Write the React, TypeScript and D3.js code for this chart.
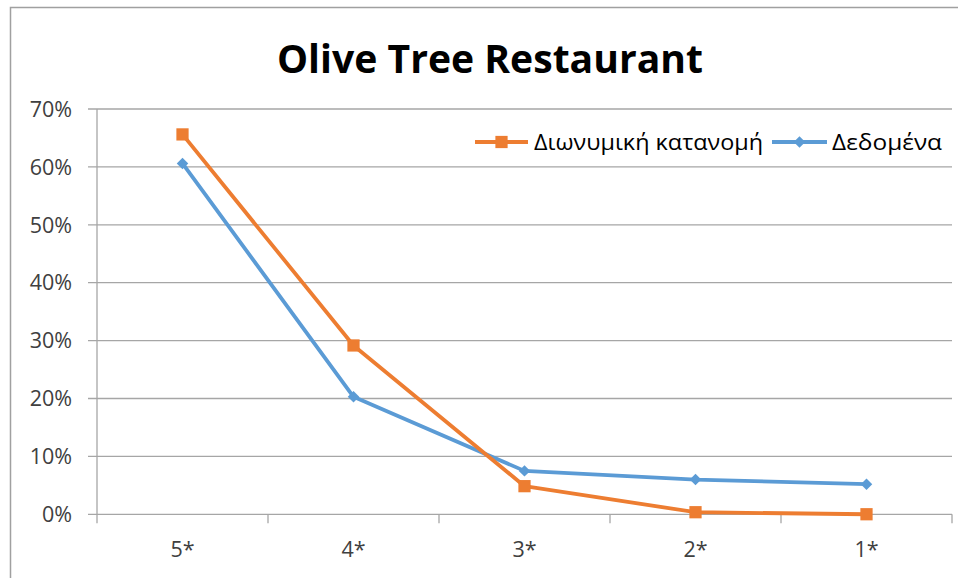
import React, {useRef, useEffect} from 'react'
import * as d3 from 'd3'

const categories = ['5*', '4*', '3*', '2*', '1*']
const binomialValues = [0.6561, 0.2916, 0.0486, 0.0036, 0.0001]
const dataValues = [0.606, 0.203, 0.075, 0.06, 0.052]
const yTicks = [0, 0.1, 0.2, 0.3, 0.4, 0.5, 0.6, 0.7]
const seriesNames = ['Διωνυμική κατανομή', 'Δεδομένα']

const ORANGE = '#ED7D31'
const BLUE = '#5B9BD5'
const GRID = '#A6A6A6'
const FONT = '"Open Sans", "Liberation Sans", sans-serif'

export default function App() {
  const svgRef = useRef(null)

  useEffect(() => {
    const svg = d3.select(svgRef.current)
    svg.selectAll('*').remove()
    draw(svg)
  }, [])

  function draw(svg) {
    const left = 97
    const right = 952
    const top = 109
    const bottom = 514.3

    const x = d3.scaleBand().domain(categories).range([left, right])
    const y = d3.scaleLinear().domain([0, 0.7]).range([bottom, top])

    // chart frame (only top/left visible)
    svg
      .append('path')
      .attr('d', 'M10.5,600 L10.5,7.5 L970,7.5')
      .attr('fill', 'none')
      .attr('stroke', '#A0A0A0')
      .attr('stroke-width', 1.5)

    svg
      .append('text')
      .attr('x', 490)
      .attr('y', 73)
      .attr('text-anchor', 'middle')
      .attr('font-family', FONT)
      .attr('font-weight', 'bold')
      .attr('font-size', 40)
      .attr('textLength', 426)
      .attr('lengthAdjust', 'spacingAndGlyphs')
      .attr('fill', '#000')
      .text('Olive Tree Restaurant')

    // gridlines + left ticks
    const grid = svg.append('g')
    yTicks.forEach(t => {
      grid
        .append('line')
        .attr('x1', left - 9)
        .attr('x2', right)
        .attr('y1', y(t))
        .attr('y2', y(t))
        .attr('stroke', GRID)
        .attr('stroke-width', 1.3)
      grid
        .append('text')
        .attr('x', 72)
        .attr('y', y(t))
        .attr('dy', '0.36em')
        .attr('text-anchor', 'end')
        .attr('font-family', FONT)
        .attr('font-size', 21.5)
        .attr('fill', '#404040')
        .text(d3.format('.0%')(t))
    })

    // vertical axis
    svg
      .append('line')
      .attr('x1', left)
      .attr('x2', left)
      .attr('y1', top)
      .attr('y2', bottom + 9)
      .attr('stroke', GRID)
      .attr('stroke-width', 1.3)

    // bottom ticks at band edges
    categories.forEach(c => {
      const xe = x(c) + x.bandwidth()
      svg
        .append('line')
        .attr('x1', xe)
        .attr('x2', xe)
        .attr('y1', bottom)
        .attr('y2', bottom + 9)
        .attr('stroke', GRID)
        .attr('stroke-width', 1.3)
      svg
        .append('text')
        .attr('x', x(c) + x.bandwidth() / 2)
        .attr('y', 557)
        .attr('text-anchor', 'middle')
        .attr('font-family', FONT)
        .attr('font-size', 21.5)
        .attr('fill', '#404040')
        .text(c)
    })

    const cx = c => x(c) + x.bandwidth() / 2
    const line = d3
      .line()
      .x(d => cx(d[0]))
      .y(d => y(d[1]))

    const blueData = categories.map((c, i) => [c, dataValues[i]])
    const orangeData = categories.map((c, i) => [c, binomialValues[i]])

    const square = d3.symbol().type(d3.symbolSquare).size(150)
    const diamond = d3.symbol().type(d3.symbolSquare).size(66)

    function drawSeries(data, color, symbol, rot) {
      svg
        .append('path')
        .datum(data)
        .attr('d', line)
        .attr('fill', 'none')
        .attr('stroke', color)
        .attr('stroke-width', 3.8)
        .attr('stroke-linejoin', 'round')
      svg
        .append('g')
        .selectAll('path')
        .data(data)
        .join('path')
        .attr('transform', d => `translate(${cx(d[0])},${y(d[1])}) rotate(${rot})`)
        .attr('d', symbol)
        .attr('fill', color)
    }

    drawSeries(blueData, BLUE, diamond, 45)
    drawSeries(orangeData, ORANGE, square, 0)

    // legend
    const legend = svg.append('g')
    const items = [
      {name: seriesNames[0], color: ORANGE, sym: square, rot: 0, x0: 475, x1: 528, tx: 534, tw: 229},
      {name: seriesNames[1], color: BLUE, sym: diamond, rot: 45, x0: 772, x1: 827, tx: 832, tw: 110}
    ]
    items.forEach(it => {
      legend
        .append('line')
        .attr('x1', it.x0)
        .attr('x2', it.x1)
        .attr('y1', 142)
        .attr('y2', 142)
        .attr('stroke', it.color)
        .attr('stroke-width', 3.8)
      legend
        .append('path')
        .attr('transform', `translate(${(it.x0 + it.x1) / 2},142) rotate(${it.rot})`)
        .attr('d', it.sym)
        .attr('fill', it.color)
      legend
        .append('text')
        .attr('x', it.tx)
        .attr('y', 142)
        .attr('dy', '0.36em')
        .attr('font-family', FONT)
        .attr('font-size', 21)
        .attr('textLength', it.tw)
        .attr('lengthAdjust', 'spacingAndGlyphs')
        .attr('fill', '#000')
        .text(it.name)
    })
  }

  return (
    <svg
      ref={svgRef}
      width={958}
      height={578}
      style={{position: 'absolute', top: 0, left: 0, background: '#fff'}}
    />
  )
}
